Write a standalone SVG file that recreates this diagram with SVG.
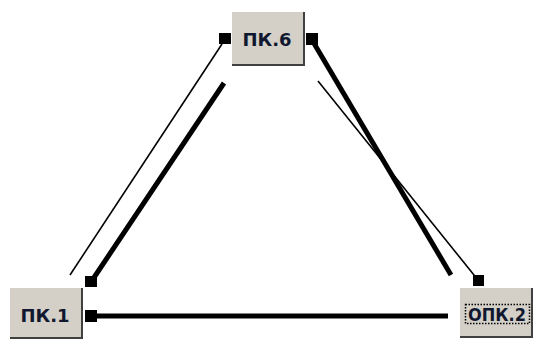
<svg xmlns="http://www.w3.org/2000/svg" width="534" height="341" viewBox="0 0 534 341">
<style>
.box{fill:#d4d0c8}
.edge{fill:none;stroke:#404040;stroke-width:2}
.lbl{font-family:"DejaVu Sans",Verdana,sans-serif;font-weight:bold;font-size:18px;fill:#101830;text-anchor:middle}
.thin{stroke:#000;stroke-width:1.6;fill:none}
.thick{stroke:#000;stroke-width:5;fill:none}
.sq{fill:#000}
</style>
<rect width="534" height="341" fill="#fff"/>
<g id="connectors">
<line class="thin" x1="222" y1="44" x2="70" y2="275"/>
<line class="thick" x1="224" y1="83" x2="91" y2="282"/>
<line class="thick" x1="312" y1="40" x2="451" y2="275"/>
<line class="thin" x1="318" y1="81" x2="478" y2="280"/>
<line class="thick" x1="91" y1="316" x2="448" y2="316"/>
<rect class="sq" x="219" y="33" width="12" height="11"/>
<rect class="sq" x="306" y="33" width="12" height="12"/>
<rect class="sq" x="85" y="276" width="12" height="11"/>
<rect class="sq" x="85" y="310" width="12" height="12"/>
<rect class="sq" x="473" y="275" width="11" height="11"/>
</g>
<g id="pk6">
<rect class="box" x="232" y="12" width="73" height="54"/>
<polyline class="edge" points="304,12 304,65 232,65"/>
<text class="lbl" x="267" y="46">ПК.6</text>
</g>
<g id="pk1">
<rect class="box" x="10" y="288" width="73" height="51"/>
<polyline class="edge" points="82,288 82,338 10,338"/>
<text class="lbl" x="45" y="322">ПК.1</text>
</g>
<g id="opk2">
<rect class="box" x="460" y="288" width="73" height="50"/>
<polyline class="edge" points="532,288 532,337 460,337"/>
<rect x="465.5" y="304.5" width="64" height="19" fill="none" stroke="#000" stroke-width="1.5" stroke-dasharray="1.5,1.5"/>
<text class="lbl" x="497" y="321" textLength="58" lengthAdjust="spacingAndGlyphs">ОПК.2</text>
</g>
</svg>
